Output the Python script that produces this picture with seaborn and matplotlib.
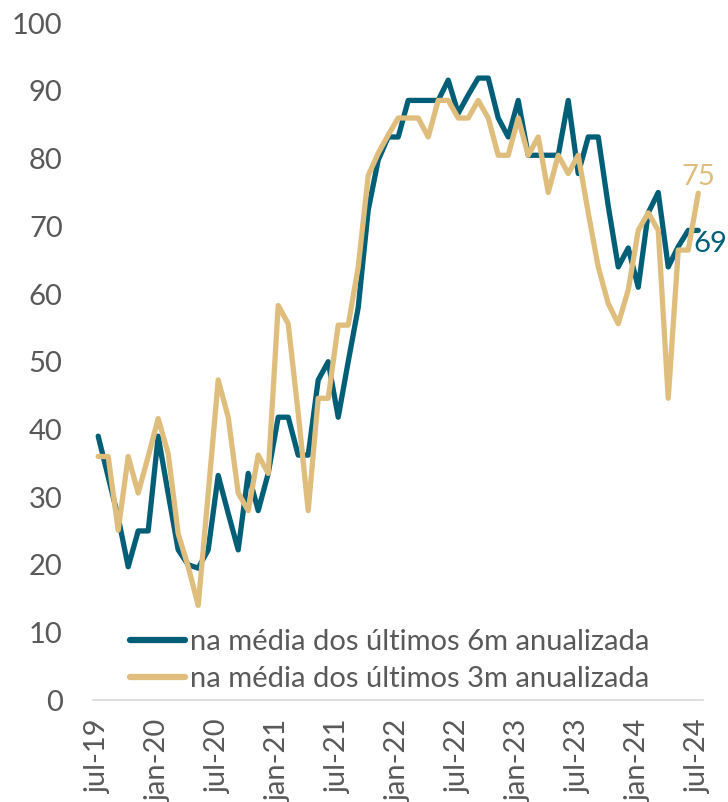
import pandas as pd
import numpy as np
import matplotlib
matplotlib.use('Agg')
import matplotlib.pyplot as plt
import seaborn as sns

# monthly data jul-19 .. jul-24
months = pd.date_range('2019-07-01', '2024-07-01', freq='MS')
tick_labels = ['jul-19', 'jan-20', 'jul-20', 'jan-21', 'jul-21', 'jan-22',
               'jul-22', 'jan-23', 'jul-23', 'jan-24', 'jul-24']

media_6m = [39, 33, 27, 19.7, 25, 25, 39, 30.5, 22.2, 20, 19.5, 22.2,
            33.2, 27.6, 22.2, 33.5, 28, 33.5, 41.8, 41.8, 36.2, 36.2, 47.3, 50,
            41.8, 50, 58, 72.4, 79.8, 83.2, 83.2, 88.6, 88.6, 88.6, 88.6, 91.6,
            86.7, 89.4, 91.9, 91.9, 86, 83.2, 88.6, 80.5, 80.5, 80.5, 80.5, 88.6,
            77.8, 83.2, 83.2, 73, 64, 66.8, 61, 72, 75, 64, 67, 69.4, 69.4]

media_3m = [36, 36, 25.1, 36, 30.6, 36, 41.6, 36.4, 24.6, 19.7, 14, 30.5,
            47.3, 41.8, 30.6, 28, 36.2, 33.5, 58.3, 55.6, 42.4, 28, 44.6, 44.6,
            55.4, 55.4, 64, 77.5, 80.8, 83.5, 86, 86, 86, 83.2, 88.6, 88.6,
            86, 86, 88.6, 86, 80.5, 80.5, 86, 80.5, 83.2, 75, 80.5, 77.8,
            80.5, 72, 64, 58.6, 55.6, 60.6, 69.4, 72, 69.4, 44.6, 66.5, 66.5, 74.9]

label_6m = 'na média dos últimos 6m anualizada'
label_3m = 'na média dos últimos 3m anualizada'

teal = '#005F77'
gold = '#DFBE7D'
grey = '#595959'
fs = 21

df = pd.DataFrame({'idx': np.arange(len(months)),
                   label_6m: media_6m,
                   label_3m: media_3m})
long_df = df.melt(id_vars='idx', var_name='serie', value_name='valor')

sns.set_style('white')
plt.rcParams['font.family'] = ['Lato', 'DejaVu Sans']

fig = plt.figure(figsize=(7.28, 8.02), dpi=100)
ax = fig.add_axes([0.128, 0.127, 0.838, 0.844])

sns.lineplot(data=long_df, x='idx', y='valor', hue='serie',
             palette={label_6m: teal, label_3m: gold},
             linewidth=3.8, ax=ax, legend=True)

ax.set_xlim(-0.5, len(months) - 0.5)
ax.set_ylim(0, 100)
ax.set_yticks(range(0, 101, 10))
ax.set_xticks(range(0, len(months), 6))
ax.set_xticklabels(tick_labels, rotation=90)
ax.tick_params(axis='both', length=0, labelsize=fs, colors=grey)
ax.tick_params(axis='y', pad=22)
ax.tick_params(axis='x', pad=14)
ax.set_xlabel('')
ax.set_ylabel('')

for side in ['top', 'right', 'left']:
    ax.spines[side].set_visible(False)
ax.spines['bottom'].set_color('#D9D9D9')
ax.spines['bottom'].set_linewidth(1.2)

# end labels
ax.text(len(months) - 1, 76.1, '75', color=gold, fontsize=fs,
        ha='center', va='baseline')
ax.text(len(months) - 1.45, 67.4, '69', color=teal, fontsize=fs,
        ha='left', va='center')

leg = ax.legend(loc='lower left', bbox_to_anchor=(130 / 728, (802 - 692) / 802),
                bbox_transform=fig.transFigure, frameon=False, fontsize=fs,
                handlelength=1.9, handletextpad=0.17, borderpad=0,
                labelspacing=0.38, borderaxespad=0)
for t in leg.get_texts():
    t.set_color(grey)
for h in leg.get_lines():
    h.set_linewidth(4.5)

fig.savefig('out.png', dpi=100)
